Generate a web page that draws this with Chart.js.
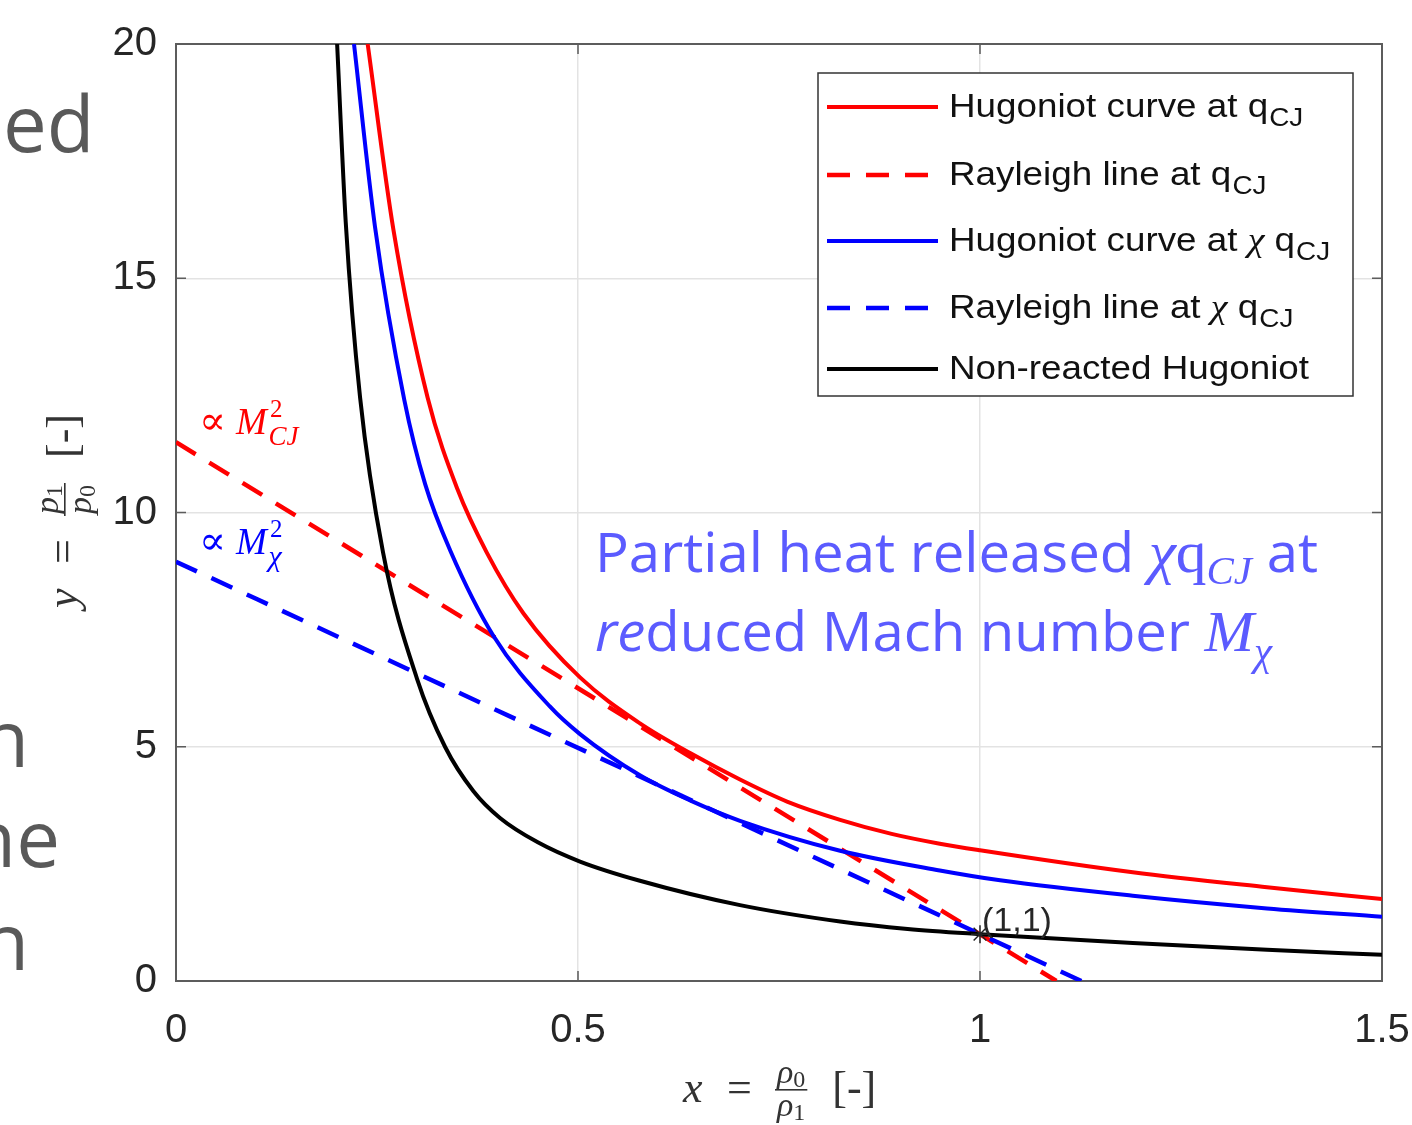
<!DOCTYPE html>
<html>
<head>
<meta charset="utf-8">
<script src="https://cdn.jsdelivr.net/npm/chart.js@4.4.1/dist/chart.umd.min.js"></script>
<style>
  html, body { margin: 0; padding: 0; background: #fff; }
  #wrap { position: relative; width: 1412px; height: 1125px; }
</style>
</head>
<body>
<div id="wrap"><canvas id="chart"></canvas></div>
<script>
// curve samples (x = rho0/rho1, y = p1/p0)
const hugCjX = [0.2384, 0.2703, 0.313, 0.35, 0.3864, 0.432, 0.5025, 0.5771, 0.64, 0.7015, 0.76, 0.826, 0.89, 0.95, 1.0, 1.19, 1.357, 1.5];
const hugCjY = [20, 16.05, 12.45, 10.5, 9.15, 7.85, 6.48, 5.5, 4.86, 4.3, 3.83, 3.44, 3.14, 2.93, 2.79, 2.32, 2.0, 1.75];

const rayCjX = [0, 1.095];
const rayCjY = [11.5, 0];

const hugChiX = [0.2214, 0.2475, 0.284, 0.31, 0.3408, 0.3947, 0.465, 0.5025, 0.577, 0.64, 0.7015, 0.826, 0.95, 1.025, 1.19, 1.357, 1.5];
const hugChiY = [20, 16.1, 12.4, 10.6, 9.2, 7.37, 5.86, 5.27, 4.39, 3.85, 3.42, 2.78, 2.36, 2.15, 1.82, 1.55, 1.37];

const rayChiX = [0, 1.126];
const rayChiY = [8.95, 0];

const inertX = [0.2004, 0.2111, 0.229, 0.2575, 0.2998, 0.3346, 0.37, 0.403, 0.45, 0.5025, 0.577, 0.7015, 0.826, 0.91, 1.0, 1.19, 1.357, 1.5];
const inertY = [20, 16.2, 12.45, 9.15, 6.45, 5.0, 4.05, 3.48, 2.96, 2.55, 2.14, 1.62, 1.27, 1.11, 1.0, 0.81, 0.665, 0.56];

const refX = [1];
const refY = [1];

const xTicks = [0, 0.5, 1, 1.5];
const yTicks = [0, 5, 10, 15, 20];

const RED = '#ff0000';
const BLUE = '#0000ff';
const BLACK = '#000000';
const GRID = '#e3e3e3';
const TXT = '#262626';
const DASH = [23, 16];

const SANS = '"Liberation Sans", Arial, sans-serif';
const SERIF = '"Liberation Serif", "DejaVu Serif", serif';
const SLIDE = '"Open Sans", sans-serif';

const pts = (xs, ys) => xs.map((x, i) => ({ x: x, y: ys[i] }));

// draw a row of text pieces, each with its own font and vertical shift
function runs(ctx, x, y, parts, color) {
    ctx.fillStyle = color;
    ctx.textAlign = 'left';
    ctx.textBaseline = 'alphabetic';
    let cx = x;
    for (const p of parts) {
        ctx.font = p.f;
        cx += p.gap || 0;
        ctx.fillText(p.t, cx, y + (p.dy || 0));
        cx += ctx.measureText(p.t).width;
    }
    return cx - x;
}

function runsWidth(ctx, parts) {
    let w = 0;
    for (const p of parts) {
        ctx.font = p.f;
        w += (p.gap || 0) + ctx.measureText(p.t).width;
    }
    return w;
}

// stretch a row to a given width
function fitRuns(ctx, x, y, parts, color, width) {
    const s = width / runsWidth(ctx, parts);
    ctx.save();
    ctx.translate(x, y);
    ctx.scale(s, 1);
    runs(ctx, 0, 0, parts, color);
    ctx.restore();
}

// "sym = num/den [-]" latex-like axis label, baseline at origin
function mathLabel(ctx, ox, oy, rot, sym, num, numSub, den, denSub) {
    ctx.save();
    ctx.translate(ox, oy);
    ctx.rotate(rot);
    ctx.fillStyle = '#333';
    ctx.textBaseline = 'alphabetic';
    ctx.textAlign = 'left';
    ctx.font = 'italic 44px ' + SERIF;
    ctx.fillText(sym, 0, 0);
    ctx.font = '44px ' + SERIF;
    ctx.fillText('=', 44, 0);
    const nParts = [{ t: num, f: 'italic 34px ' + SERIF }, { t: numSub, f: '24px ' + SERIF, dy: 4 }];
    const dParts = [{ t: den, f: 'italic 34px ' + SERIF }, { t: denSub, f: '24px ' + SERIF, dy: 4 }];
    const nw = runsWidth(ctx, nParts);
    const dw = runsWidth(ctx, dParts);
    const bw = Math.max(nw, dw) + 4;
    const bx = 92;
    ctx.fillRect(bx, -13, bw, 1.6);
    runs(ctx, bx + (bw - nw) / 2, -19, nParts, '#333');
    runs(ctx, bx + (bw - dw) / 2, 14, dParts, '#333');
    ctx.font = '44px ' + SERIF;
    ctx.fillText('[-]', bx + bw + 25, 0);
    ctx.restore();
}

const legendRows = [
    { y: 107, color: RED, dash: false, parts: [{ t: 'Hugoniot curve at q' }, { t: 'CJ', sub: true }] },
    { y: 175, color: RED, dash: true, parts: [{ t: 'Rayleigh line at q' }, { t: 'CJ', sub: true }] },
    { y: 241, color: BLUE, dash: false, parts: [{ t: 'Hugoniot curve at ' }, { t: 'χ', chi: true }, { t: ' q' }, { t: 'CJ', sub: true }] },
    { y: 308, color: BLUE, dash: true, parts: [{ t: 'Rayleigh line at ' }, { t: 'χ', chi: true }, { t: ' q' }, { t: 'CJ', sub: true }] },
    { y: 369, color: BLACK, dash: false, parts: [{ t: 'Non-reacted Hugoniot' }] }
];

const decor = {
    id: 'decor',
    beforeDatasetsDraw(chart) {
        const ctx = chart.ctx;
        const a = chart.chartArea;
        const sx = chart.scales.x, sy = chart.scales.y;
        ctx.save();
        ctx.strokeStyle = '#5c5c5c';
        ctx.lineWidth = 1.5;
        ctx.beginPath();
        xTicks.forEach(v => {
            const px = sx.getPixelForValue(v);
            ctx.moveTo(px, a.bottom); ctx.lineTo(px, a.bottom - 10);
            ctx.moveTo(px, a.top); ctx.lineTo(px, a.top + 10);
        });
        yTicks.forEach(v => {
            const py = sy.getPixelForValue(v);
            ctx.moveTo(a.left, py); ctx.lineTo(a.left + 10, py);
            ctx.moveTo(a.right, py); ctx.lineTo(a.right - 10, py);
        });
        ctx.stroke();
        ctx.lineWidth = 2;
        ctx.strokeRect(a.left, a.top, a.right - a.left, a.bottom - a.top);
        ctx.restore();
    },
    afterDatasetsDraw(chart) {
        const ctx = chart.ctx;
        ctx.save();

        // legend box
        ctx.fillStyle = '#fff';
        ctx.fillRect(818, 73, 535, 323);
        ctx.strokeStyle = '#333';
        ctx.lineWidth = 1.5;
        ctx.strokeRect(818, 73, 535, 323);
        ctx.font = '33px ' + SANS;
        const stretch = 360 / ctx.measureText('Non-reacted Hugoniot').width;
        legendRows.forEach(r => {
            ctx.strokeStyle = r.color;
            ctx.lineWidth = r.dash ? 4.5 : 4;
            ctx.setLineDash(r.dash ? DASH : []);
            ctx.beginPath();
            ctx.moveTo(827, r.y);
            ctx.lineTo(938, r.y);
            ctx.stroke();
            ctx.setLineDash([]);
            const parts = r.parts.map(p => {
                if (p.sub) return { t: p.t, f: '25px ' + SANS, dy: 9, gap: 1 };
                if (p.chi) return { t: p.t, f: 'italic 34px ' + SERIF };
                return { t: p.t, f: '33px ' + SANS };
            });
            ctx.save();
            ctx.translate(949, r.y + 10);
            ctx.scale(stretch, 1);
            runs(ctx, 0, 0, parts, '#111');
            ctx.restore();
        });

        // proportional-to annotations
        runs(ctx, 199, 434, [
            { t: '∝', f: '40px "DejaVu Serif", serif' },
            { t: 'M', f: 'italic 37px ' + SERIF, gap: 10 },
            { t: '2', f: '25px ' + SERIF, dy: -17, gap: 3 },
            { t: 'CJ', f: 'italic 27px ' + SERIF, dy: 11, gap: -14 }
        ], RED);
        runs(ctx, 199, 554, [
            { t: '∝', f: '40px "DejaVu Serif", serif' },
            { t: 'M', f: 'italic 37px ' + SERIF, gap: 10 },
            { t: '2', f: '25px ' + SERIF, dy: -17, gap: 3 },
            { t: 'χ', f: 'italic 30px ' + SERIF, dy: 12, gap: -14 }
        ], BLUE);

        // big blue caption
        const CAP = '#5b5bff';
        fitRuns(ctx, 595, 572, [
            { t: 'Partial heat released ', f: '55px ' + SLIDE },
            { t: 'χ', f: 'italic 60px ' + SERIF },
            { t: 'q', f: '60px ' + SERIF },
            { t: 'CJ', f: 'italic 40px ' + SERIF, dy: 12 },
            { t: ' at', f: '55px ' + SLIDE }
        ], CAP, 723);
        fitRuns(ctx, 595, 651, [
            { t: 're', f: 'italic 55px ' + SLIDE },
            { t: 'duced Mach number ', f: '55px ' + SLIDE },
            { t: 'M', f: 'italic 58px ' + SERIF },
            { t: 'χ', f: 'italic 40px ' + SERIF, dy: 14 }
        ], CAP, 677);

        // reference point label
        ctx.fillStyle = TXT;
        ctx.font = '34px ' + SANS;
        ctx.fillText('(1,1)', 982, 931);

        // axis labels
        mathLabel(ctx, 683, 1102, 0, 'x', 'ρ', '0', 'ρ', '1');
        mathLabel(ctx, 77, 608, -Math.PI / 2, 'y', 'p', '1', 'p', '0');

        // slide text peeking in from the left
        ctx.fillStyle = '#595959';
        ctx.font = '78px ' + SLIDE;
        ctx.textAlign = 'left';
        ctx.fillText('ed', 3, 152);
        ctx.textAlign = 'right';
        ctx.fillText('n', 29, 767);
        ctx.fillText('ne', 60, 867);
        ctx.fillText('n', 29, 970);
        ctx.restore();
    }
};

const lineSet = (label, xs, ys, color, dashed, order) => ({
    label: label,
    data: pts(xs, ys),
    showLine: true,
    borderColor: color,
    backgroundColor: color,
    borderWidth: dashed ? 4.5 : 4,
    borderDash: dashed ? DASH : [],
    pointRadius: 0,
    cubicInterpolationMode: 'monotone',
    order: order
});

const noPad = s => { s.paddingLeft = 0; s.paddingRight = 0; s.paddingTop = 0; s.paddingBottom = 0; };

new Chart(document.getElementById('chart'), {
    type: 'scatter',
    data: {
        datasets: [
            lineSet('Hugoniot curve at qCJ', hugCjX, hugCjY, RED, false, 5),
            lineSet('Rayleigh line at qCJ', rayCjX, rayCjY, RED, true, 4),
            lineSet('Hugoniot curve at χ qCJ', hugChiX, hugChiY, BLUE, false, 3),
            lineSet('Rayleigh line at χ qCJ', rayChiX, rayChiY, BLUE, true, 2),
            lineSet('Non-reacted Hugoniot', inertX, inertY, BLACK, false, 1),
            {
                label: '(1,1)',
                data: pts(refX, refY),
                showLine: false,
                pointStyle: 'star',
                pointRadius: 9,
                borderColor: '#222',
                borderWidth: 1.5,
                order: 0
            }
        ]
    },
    options: {
        responsive: true,
        maintainAspectRatio: false,
        animation: false,
        layout: { padding: { top: 44, right: 30, left: 0, bottom: 0 } },
        plugins: { legend: { display: false }, tooltip: { enabled: false } },
        scales: {
            x: {
                type: 'linear',
                min: 0,
                max: 1.5,
                afterBuildTicks: s => { s.ticks = xTicks.map(v => ({ value: v })); },
                afterFit: s => { s.height = 144; noPad(s); },
                grid: { color: GRID, lineWidth: 1.5, drawTicks: false },
                border: { display: false },
                ticks: { padding: 26, color: TXT, font: { family: SANS, size: 40 }, callback: v => String(v) }
            },
            y: {
                type: 'linear',
                min: 0,
                max: 20,
                afterBuildTicks: s => { s.ticks = yTicks.map(v => ({ value: v })); },
                afterFit: s => { s.width = 176; noPad(s); },
                grid: { color: GRID, lineWidth: 1.5, drawTicks: false },
                border: { display: false },
                ticks: { padding: 19, color: TXT, font: { family: SANS, size: 40 }, callback: v => String(v) }
            }
        }
    },
    plugins: [decor]
});
</script>
</body>
</html>
